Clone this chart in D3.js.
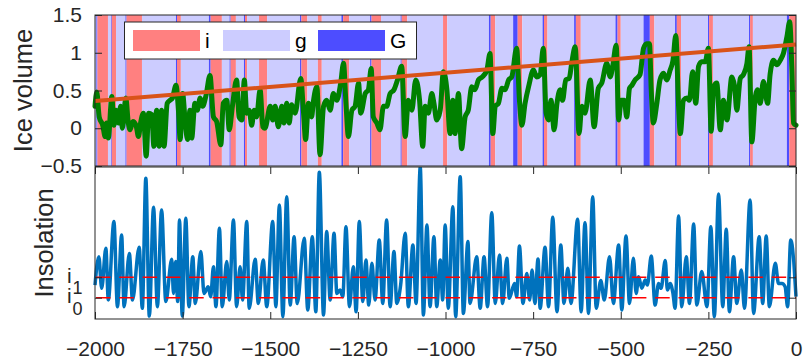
<!DOCTYPE html>
<html>
<head>
<meta charset="utf-8">
<script src="https://cdn.jsdelivr.net/npm/d3@7"></script>
<style>
  body { margin: 0; background: #fff; }
  svg { display: block; font-family: "Liberation Sans", Arial, Helvetica, sans-serif; }
</style>
</head>
<body>
<svg id="chart" width="803" height="359"></svg>
<script>
// ---- Data (time in kyr, negative = before present) ----

// Climate state sequence: each state holds from its start time to the next start
const stateStart = [-2000, -1996, -1993, -1963, -1954, -1952, -1940, -1913, -1910, -1866,
  -1769, -1766, -1755, -1675, -1670, -1638, -1616, -1613, -1598, -1575, -1572, -1566,
  -1532, -1509, -1415, -1411, -1394, -1364, -1353, -1297, -1292, -1275, -1215, -1211,
  -1184, -1128, -1125, -1109, -1007, -995, -876, -871, -858, -807, -794, -781, -723,
  -719, -709, -633, -628, -614, -515, -509, -500, -435, -417, -404, -345, -340, -328,
  -251, -248, -237, -134, -131, -123, -26, -19];
const stateCode = ["g", "G", "i", "g", "G", "i", "g", "G", "i", "g",
  "G", "i", "g", "G", "i", "g", "G", "i", "g", "G", "i", "g",
  "i", "g", "G", "i", "g", "i", "g", "G", "i", "g", "G", "i",
  "g", "G", "i", "g", "i", "g", "G", "i", "g", "G", "i", "g", "G",
  "i", "g", "G", "i", "g", "G", "i", "g", "G", "i", "g", "G", "i", "g",
  "G", "i", "g", "G", "i", "g", "G", "i"];
const stateNames = ["i", "g", "G"];

// Modelled ice volume
const iceTime = [
  -2000, -1995, -1988, -1978, -1971, -1967, -1962, -1952, -1946, -1940, -1933, -1927, -1922,
  -1912, -1905, -1900, -1892, -1883, -1876, -1870, -1862, -1854, -1847, -1838, -1832, -1824,
  -1817, -1810, -1803, -1794, -1786, -1779, -1769, -1762, -1757, -1750, -1743, -1736, -1729,
  -1724, -1715, -1708, -1700, -1693, -1683, -1672, -1662, -1653, -1641, -1634, -1624, -1617,
  -1608, -1596, -1589, -1581, -1574, -1567, -1560, -1553, -1546, -1539, -1529, -1521, -1515,
  -1500, -1493, -1486, -1477, -1467, -1461, -1453, -1446, -1439, -1429, -1413, -1405, -1399,
  -1391, -1382, -1377, -1367, -1358, -1348, -1339, -1329, -1320, -1310, -1299, -1291, -1284,
  -1277, -1267, -1258, -1248, -1242, -1229, -1220, -1212, -1206, -1196, -1187, -1177, -1168,
  -1158, -1147, -1137, -1125, -1115, -1106, -1096, -1085, -1074, -1065, -1058, -1049, -1039,
  -1033, -1025, -1015, -1006, -996, -987, -979, -973, -963, -954, -944, -935, -925, -916,
  -906, -895, -882, -873, -865, -858, -849, -839, -830, -820, -811, -797, -789, -782, -773,
  -763, -749, -740, -730, -721, -713, -706, -699, -690, -682, -673, -666, -657, -647, -640,
  -630, -619, -611, -602, -587, -576, -564, -554, -540, -530, -523, -513, -506, -499, -490,
  -483, -475, -468, -459, -445, -435, -426, -418, -413, -407, -397, -388, -378, -369, -359,
  -351, -343, -335, -330, -321, -311, -304, -295, -286, -278, -269, -259, -250, -242, -235,
  -226, -216, -207, -197, -183, -175, -169, -159, -150, -140, -134, -126, -116, -110, -102,
  -93, -81, -74, -64, -55, -45, -36, -26, -18, -12, -7, 0];
const iceVolume = [
  0.29, 0.48, 0.15, 0.04, -0.11, 0.07, -0.13, 0.42, 0.04, 0.24, 0.07, 0.29, 0.00,
  0.40, 0.07, -0.02, 0.09, 0.04, -0.11, 0.07, 0.20, -0.37, 0.20, 0.18, -0.24, 0.24,
  -0.24, 0.24, -0.24, 0.33, 0.37, 0.40, 0.57, 0.24, -0.15, 0.46, 0.11, -0.15, 0.24,
  -0.13, 0.33, 0.24, 0.40, 0.29, 0.44, 0.70, 0.15, 0.09, -0.22, 0.33, 0.37, -0.02,
  0.29, 0.64, 0.15, 0.11, 0.64, 0.20, 0.24, 0.04, 0.24, 0.15, 0.51, 0.02, 0.00,
  0.29, 0.11, 0.29, 0.02, 0.29, 0.07, 0.33, 0.07, 0.31, 0.20, 0.66, 0.20, -0.15,
  0.33, 0.15, 0.35, 0.55, -0.35, 0.29, 0.37, 0.24, 0.46, 0.37, 0.60, 0.86, 0.33,
  -0.11, 0.24, 0.29, 0.60, 0.20, 0.46, 0.51, 0.79, 0.15, 0.07, -0.02, 0.29, 0.29,
  0.46, 0.51, 0.64, 0.82, -0.11, 0.37, 0.24, 0.64, 0.37, -0.24, 0.29, 0.20, 0.46,
  0.33, 0.11, 0.24, 0.75, 0.51, -0.07, 0.37, -0.07, 0.46, -0.27, 0.15, 0.24, 0.55, 0.51,
  0.64, 0.68, 0.77, 0.99, -0.07, 0.29, 0.33, 0.53, 0.51, 0.64, 0.68, 1.06, 0.37, 0.04, 0.33,
  0.55, 0.77, 0.68, 0.71, 1.06, 0.20, 0.11, 0.37, -0.02, 0.33, 0.51, 0.37, 0.64, 0.66, 0.86,
  1.08, -0.07, 0.29, 0.20, 0.64, 0.02, 0.53, 0.60, 0.86, 0.68, 0.82, 1.10, 0.11, 0.37, 0.37,
  0.15, 0.53, 0.57, 0.64, 0.71, 1.06, 1.12, 1.12, 0.51, 0.07, 0.33, 0.64, 0.73, 0.64, 0.77,
  0.90, 1.23, 0.29, -0.07, 0.37, 0.40, 0.37, 0.75, 0.33, 0.82, 0.88, 0.88, 1.06, -0.04, 0.55,
  0.60, -0.02, 0.37, 0.11, 0.68, 0.55, 0.24, 0.66, 0.71, 0.86, 1.08, -0.18, 0.42, 0.51, 0.33,
  0.62, 0.33, 0.71, 0.90, 0.84, 0.90, 0.99, 1.21, 1.41, 0.82, 0.07, 0.04];

// Linear trend of ice volume
const trendTime = [-2000, 0];
const trendValue = [0.36, 1.11];

// Insolation (normalised so that the two thresholds sit at 0 and 1)
const insolTime = [
  -2000, -1989, -1981, -1969, -1962, -1946, -1936, -1924, -1917, -1902, -1893, -1874, -1865,
  -1855, -1845, -1833, -1822, -1810, -1798, -1781, -1776, -1770, -1764, -1759, -1751, -1741,
  -1732, -1721, -1714, -1698, -1689, -1677, -1670, -1662, -1655, -1645, -1637, -1624, -1617,
  -1605, -1596, -1586, -1579, -1567, -1560, -1543, -1534, -1520, -1510,
  -1493, -1484, -1474, -1464, -1453, -1443, -1432, -1423, -1403, -1393, -1380, -1370, -1360,
  -1348, -1339, -1329, -1318, -1310, -1301, -1293, -1284, -1274, -1263, -1255, -1246, -1236,
  -1227, -1219, -1210, -1201, -1189, -1179, -1168, -1158, -1147, -1139, -1128, -1115, -1106,
  -1093, -1084, -1072, -1063, -1053, -1044, -1033, -1025, -1015, -1008, -1001, -992, -979,
  -971, -958, -949, -936, -930, -911, -901, -890, -880, -868, -858, -846, -837, -825, -818,
  -803, -797, -789, -779, -768, -760, -753, -745, -736, -730,
  -716, -706, -694, -682, -671, -662, -651, -642, -623, -613, -602, -592, -580, -570, -557,
  -547, -532, -521, -506, -497, -485, -475, -464, -456, -449, -440, -430, -424, -413, -402,
  -392, -385, -373, -367, -359, -351, -345, -335, -326, -313, -304, -292, -283, -269, -254,
  -243, -233, -221, -209, -199, -190, -178, -169, -156, -147, -131, -121, -105, -95, -85,
  -76, -59, -50, -40, -31, -24, -15, 0];
const insolValue = [
  0.62, 2.01, 0.46, 2.42, -0.11, 3.73, -0.44, 3.07, -0.44, 2.17, -0.11, 2.47, -0.52,
  5.85, -0.90, 4.43, -0.44, 4.30, -0.19, 1.88, 0.21, 1.77, -0.19, 3.81, -0.90, 3.89,
  -0.44, 2.01, -0.28, 2.26, 0.21, 0.54, 0.05, 1.52, -0.44, 3.40, -0.44, 1.77, -0.11,
  3.81, -0.44, 1.52, -0.11, 3.73, -0.52, 1.88, -0.28, 1.85, -0.44,
  3.73, -0.44, 4.54, -0.93, 4.95, -0.36, 2.99, -0.28, 2.91, -0.60, 2.99, -0.69, 6.15,
  -0.85, 3.24, -0.11, 3.16, 0.21, 0.38, 0.05, 3.48, -0.44, 1.52, -0.69, 3.73, -0.19,
  1.85, -0.36, 1.69, -0.11, 2.83, -0.28, 3.81, -0.44, 2.26, -0.28, 0.62, 3.16, -0.44,
  2.58, -0.28, 6.40, -0.85, 3.56, -0.44, 2.99, -0.44, 1.85, -0.11, 3.56, -0.52, 4.46,
  -0.93, 5.93, -0.77, 2.75, -0.28, 2.01, -0.52, 2.01, -0.44, 4.17, -0.28, 2.09, -0.28, 1.93, -0.03,
  0.70, 0.05, 2.53, -0.28, 1.19, -0.11, 1.36, -0.28, 1.90, -0.52,
  2.47, -0.44, 3.94, -0.69, 2.58, -0.28, 1.44, -0.28, 3.84, -0.69, 3.68, -0.77, 4.95, -0.52, 0.84,
  -0.11, 2.01, -0.28, 2.58, -0.60, 3.02, -0.28, 1.93, 0.21, 1.03, 0.46, 0.87, 0.62, 2.04, -0.36,
  0.70, 0.46, 1.82, 0.38, 0.70, 0.21, -0.52, 4.00, -0.44, 2.01, -0.28, 3.61, -0.36, 1.28, -0.44,
  3.48, -0.93, 5.08, -0.44, 3.35, -0.69, 2.01, -0.28, 1.36, -0.52, 4.79, -0.77, 2.99, -0.28, 3.02,
  -0.44, 1.69, 0.70, 0.70, 0.54, -0.44, 2.83, 0.05];

// Insolation thresholds
const thresholdValue = [0, 1];
const thresholdSub = ["0", "1"];

// Axis ticks
const timeTicks = [-2000, -1750, -1500, -1250, -1000, -750, -500, -250, 0];
const iceTicks = [-0.5, 0, 0.5, 1, 1.5];

// ---- Drawing ----
const colors = {
  i: "#ff8080", g: "#ccccff", G: "#4d4dff",
  ice: "#008000", trend: "#d95319", insol: "#0072bd", thresh: "#ff0000", axis: "#262626"
};

const svg = d3.select("#chart");
const left = 95, right = 796;
const top1 = 15, bot1 = 166;
const top2 = 167, bot2 = 319;

const x = d3.scaleLinear().domain([-2000, 0]).range([left, right]);
const yIce = d3.scaleLinear().domain([-0.5, 1.5]).range([bot1, top1]);
const yIns = d3.scaleLinear().domain([-1.044, 6.407]).range([bot2, top2]);

const defs = svg.append("defs");
defs.append("clipPath").attr("id", "clipTop")
  .append("rect").attr("x", left).attr("y", top1).attr("width", right - left).attr("height", bot1 - top1);
defs.append("clipPath").attr("id", "clipBot")
  .append("rect").attr("x", left - 4).attr("y", top2).attr("width", right - left + 8).attr("height", bot2 - top2);

// State bands
const bands = stateStart.map((s, k) => ({
  start: s,
  end: k + 1 < stateStart.length ? stateStart[k + 1] : 0,
  code: stateCode[k]
}));
svg.append("g").attr("clip-path", "url(#clipTop)")
  .selectAll("rect").data(bands).join("rect")
  .attr("x", d => x(d.start))
  .attr("y", top1)
  .attr("width", d => x(d.end) - x(d.start))
  .attr("height", bot1 - top1)
  .attr("fill", d => colors[d.code]);

// Ice volume curve
const iceData = iceTime.map((t, k) => [t, iceVolume[k]]);
svg.append("path")
  .datum(iceData)
  .attr("fill", "none")
  .attr("stroke", colors.ice)
  .attr("stroke-width", 5)
  .attr("stroke-linejoin", "round")
  .attr("stroke-linecap", "round")
  .attr("d", d3.line().x(d => x(d[0])).y(d => yIce(d[1])).curve(d3.curveMonotoneX));

// Trend line
svg.append("path")
  .datum(trendTime.map((t, k) => [t, trendValue[k]]))
  .attr("fill", "none")
  .attr("stroke", colors.trend)
  .attr("stroke-width", 4)
  .attr("d", d3.line().x(d => x(d[0])).y(d => yIce(d[1])));

// Insolation curve
const insolData = insolTime.map((t, k) => [t, insolValue[k]]);
svg.append("path")
  .attr("clip-path", "url(#clipBot)")
  .datum(insolData)
  .attr("fill", "none")
  .attr("stroke", colors.insol)
  .attr("stroke-width", 3.5)
  .attr("stroke-linejoin", "round")
  .attr("d", d3.line().x(d => x(d[0])).y(d => yIns(d[1])).curve(d3.curveMonotoneX));

// Threshold lines
svg.append("g").selectAll("line").data(thresholdValue).join("line")
  .attr("x1", left).attr("x2", right)
  .attr("y1", d => yIns(d)).attr("y2", d => yIns(d))
  .attr("stroke", colors.thresh)
  .attr("stroke-width", 1.5)
  .attr("stroke-dasharray", "14.5,8.8")
  .attr("stroke-dashoffset", -1);

// Axes
const fontSize = 21;
function styleAxis(g) {
  g.select(".domain").remove();
  g.selectAll(".tick line").attr("stroke", colors.axis);
  g.selectAll(".tick text").attr("fill", colors.axis).attr("font-size", fontSize)
    .attr("font-family", "Liberation Sans, Arial, sans-serif");
}

// Top panel: y ticks on both sides
svg.append("g").attr("transform", `translate(${left},0)`)
  .call(d3.axisLeft(yIce).tickValues(iceTicks).tickSize(-7).tickPadding(13)
    .tickFormat(d3.format("")))
  .call(styleAxis);
svg.append("g").attr("transform", `translate(${right},0)`)
  .call(d3.axisRight(yIce).tickValues(iceTicks).tickSize(-7).tickFormat(""))
  .call(styleAxis);

// Bottom panel: x ticks top and bottom, threshold ticks on both sides
svg.append("g").attr("transform", `translate(0,${bot2})`)
  .call(d3.axisBottom(x).tickValues(timeTicks).tickSize(-7).tickPadding(22.5)
    .tickFormat(d3.format("")))
  .call(styleAxis);
svg.append("g").attr("transform", `translate(0,${top2})`)
  .call(d3.axisTop(x).tickValues(timeTicks).tickSize(-7).tickFormat(""))
  .call(styleAxis);
svg.append("g").attr("transform", `translate(${left},0)`)
  .call(d3.axisLeft(yIns).tickValues(thresholdValue).tickSize(-7).tickFormat(""))
  .call(styleAxis);
svg.append("g").attr("transform", `translate(${right},0)`)
  .call(d3.axisRight(yIns).tickValues(thresholdValue).tickSize(-7).tickFormat(""))
  .call(styleAxis);

// Threshold tick labels: letter i with a lowered index digit
const thrLabels = svg.append("g").attr("fill", colors.axis);
thresholdValue.forEach((v, k) => {
  thrLabels.append("text")
    .attr("x", 67).attr("y", yIns(v) + 5.5)
    .attr("font-size", fontSize)
    .text("i");
  thrLabels.append("text")
    .attr("x", 72.5).attr("y", yIns(v) + 17)
    .attr("font-size", 18)
    .text(thresholdSub[k]);
});

// Panel frames
[[top1, bot1], [top2, bot2]].forEach(([a, b]) => {
  svg.append("rect")
    .attr("x", left).attr("y", a)
    .attr("width", right - left).attr("height", b - a)
    .attr("fill", "none").attr("stroke", colors.axis).attr("stroke-width", 1);
});

// Axis titles
svg.append("text")
  .attr("transform", `translate(32,${(top1 + bot1) / 2}) rotate(-90)`)
  .attr("text-anchor", "middle").attr("font-size", 25.5).attr("fill", colors.axis)
  .text("Ice volume");
svg.append("text")
  .attr("transform", `translate(52.5,${(top2 + bot2) / 2}) rotate(-90)`)
  .attr("text-anchor", "middle").attr("font-size", 25.5).attr("fill", colors.axis)
  .text("Insolation");

// Legend
const legend = svg.append("g");
legend.append("rect")
  .attr("x", 124.5).attr("y", 22).attr("width", 292).attr("height", 37)
  .attr("fill", "#fff").attr("stroke", colors.axis).attr("stroke-width", 1);
const legendX = [133, 223, 318];
stateNames.forEach((name, k) => {
  legend.append("rect")
    .attr("x", legendX[k]).attr("y", 30).attr("width", 67).attr("height", 21)
    .attr("fill", colors[name]);
  legend.append("text")
    .attr("x", legendX[k] + 72).attr("y", 48)
    .attr("font-size", fontSize).attr("fill", "#000")
    .text(name);
});
</script>
</body>
</html>
